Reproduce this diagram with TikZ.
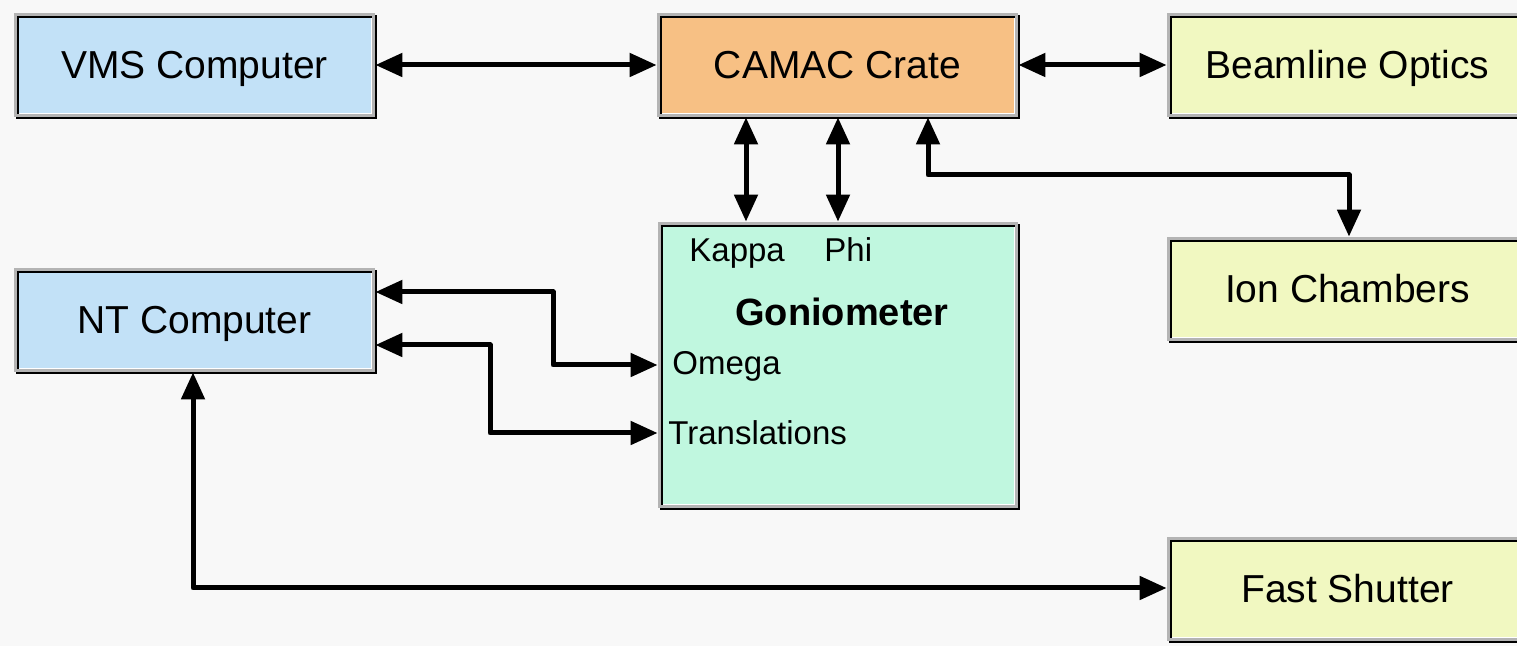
\documentclass[tikz,border=0pt]{standalone}
\usepackage{fontspec}
\setmainfont{Liberation Sans}
\usetikzlibrary{arrows.meta,calc,shadows}
\definecolor{bgc}{HTML}{F8F8F8}
\definecolor{framegray}{HTML}{B4B4B4}
\definecolor{cblue}{HTML}{C2E1F7}
\definecolor{corange}{HTML}{F7C084}
\definecolor{cyellow}{HTML}{F1F8C1}
\definecolor{cmint}{HTML}{C0F7DF}
\begin{document}
\begin{tikzpicture}[x=0.5pt,y=-0.5pt,
  box/.style={rectangle, minimum width=180.5pt, minimum height=52pt, inner sep=0pt,
    fill=framegray, font=\fontsize{19.5}{22}\selectfont, text height=14pt, text depth=0pt,
    general shadow={fill=black, shadow xshift=1pt, shadow yshift=-1pt},
    path picture={
      \fill[black] ($(path picture bounding box.north west)+(1.5pt,-1.5pt)$) rectangle ($(path picture bounding box.south east)+(-1.5pt,1.5pt)$);
      \fill[white] ($(path picture bounding box.north west)+(2.5pt,-2.5pt)$) rectangle ($(path picture bounding box.south east)+(-1.5pt,1.5pt)$);
      \fill[#1] ($(path picture bounding box.north west)+(2.5pt,-2.5pt)$) rectangle ($(path picture bounding box.south east)+(-2pt,2pt)$);
    }},
  lbl/.style={inner sep=0pt, font=\fontsize{16.5}{19}\selectfont, anchor=base west},
  conn/.style={line width=2.5pt, line join=round,
    {Triangle[length=13.5pt,width=11.5pt]}-{Triangle[length=13.5pt,width=11.5pt]}}
]
\useasboundingbox (0,0) rectangle (1517,646);
\clip (0,0) rectangle (1517,646);
\fill[bgc] (0,0) rectangle (1517,646);

\node[box=cblue] (vms) at (194.5,65) {VMS Computer};
\node[box=corange] (camac) at (837.5,65) {CAMAC Crate};
\node[box=cyellow] (optics) at (1347.5,65) {Beamline Optics};
\node[box=cblue] (nt) at (194.5,320) {NT Computer};
\node[box=cmint, minimum width=180pt, minimum height=143pt] (gonio) at (838,365) {};
\node[box=cyellow] (ion) at (1347.5,289) {Ion Chambers};
\node[box=cyellow] (shutter) at (1347.5,589) {Fast Shutter};

\node[lbl] (kappa) at (689,262) {Kappa};
\node[lbl] (phi) at (824,262) {Phi};
\node[inner sep=0pt, font=\fontsize{19}{22}\selectfont\bfseries, text height=14pt, text depth=0pt] (gtitle) at (842,312) {Goniometer};
\node[lbl] (omega) at (672,375) {Omega};
\node[lbl] (trans) at (668,445) {Translations};

\draw[conn] (vms) -- (camac);
\draw[conn] (camac) -- (optics);
\draw[conn] (camac.south -| 746,0) -- (gonio.north -| 746,0);
\draw[conn] (camac.south -| 838,0) -- (gonio.north -| 838,0);
\draw[conn] (camac.south -| 928,0) -- (928,175) -- (1349,175) -- (ion.north -| 1349,0);
\draw[conn] (nt.east |- 0,292) -- (553,292) -- (553,365) -- (gonio.west |- 0,365);
\draw[conn] (nt.east |- 0,345) -- (490,345) -- (490,433) -- (gonio.west |- 0,433);
\draw[conn] (nt.south -| 193,0) -- (193,588) -- (shutter.west |- 0,588);
\end{tikzpicture}
\end{document}
